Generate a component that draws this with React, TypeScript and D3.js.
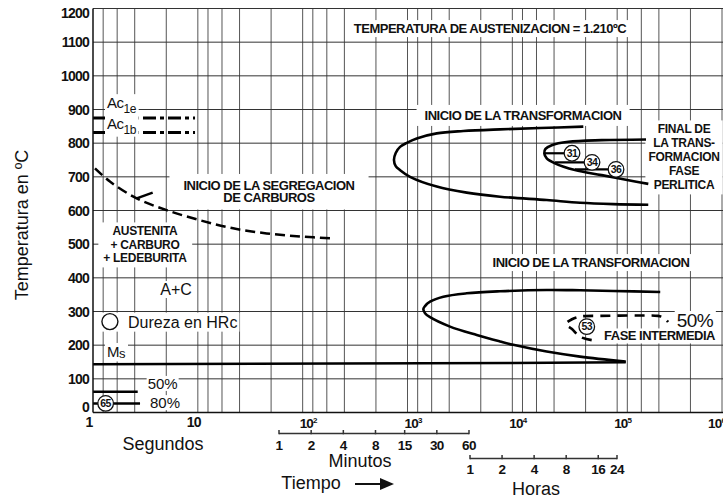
import React, { useEffect, useRef } from 'react';
import * as d3 from 'd3';

type Pt = [number, number];

const W = 723;
const H = 499;
const FONT = "'Liberation Sans', Arial, Helvetica, sans-serif";

// ---------- axes / ticks ----------
const tempTicks = [0, 100, 200, 300, 400, 500, 600, 700, 800, 900, 1000, 1100, 1200];
const timeDecades = [1, 10, 100, 1000, 10000, 100000, 1000000];
const decadeExponents = ['', '', '2', '3', '4', '5', '6'];
const gridMultipliers = [1, 1.25, 1.7, 2.5, 5];
const minuteTicks = [1, 2, 4, 8, 15, 30, 60];
const hourTicks = [1, 2, 4, 8, 16, 24];

// ---------- Ac lines ----------
const acTemps = [875, 832];
const acSubs = ['1e', '1b'];
const acLineEnd = 9.4;

// ---------- curves (time s, temperature ºC) ----------
const segregationStart: Pt[] = [[1.045, 725], [1.45, 686], [2.61, 636], [5.04, 601], [10.5, 571], [21.7, 547], [45.3, 532], [94.5, 523], [194, 517]];
const segregationLeader: Pt[] = [[2.61, 636], [3.71, 653]];
const pearliteStart: Pt[] = [[47550, 849], [18360, 845], [7628, 841], [3404, 836], [1901, 829], [1225, 814], [984, 801], [849, 789], [772, 771], [743, 750], [772, 732], [849, 720], [1057, 700], [1900, 671], [3672, 653], [7628, 641], [21280, 631], [44230, 623], [91900, 619], [198000, 617]];
const pearliteFinish: Pt[] = [[188400, 811], [71240, 809], [34280, 804], [23760, 794], [20710, 783], [20180, 770], [21280, 755], [25520, 740], [39610, 720], [71240, 705], [148000, 686], [198200, 679]];
const bainiteStart: Pt[] = [[257500, 358], [91900, 361], [44230, 363], [21280, 364], [7628, 360], [3672, 354], [2198, 344], [1641, 329], [1469, 316], [1416, 307], [1469, 295], [1641, 283], [2545, 255], [4575, 230], [7628, 211], [10200, 201], [21280, 181], [44230, 166], [120700, 151]];
const bainite50: Pt[] = [[57150, 215], [44230, 225], [37070, 248], [32510, 263], [37070, 277], [44230, 285], [68560, 287], [165200, 288], [245500, 287], [280200, 281], [305700, 269]];
const msLine: Pt[] = [[1, 143], [10000, 147], [120700, 149]];
const mart50: Pt[] = [[1, 62], [2.67, 62]];
const mart80: Pt[] = [[1, 27], [2.81, 27]];

// ---------- hardness HRc ----------
const hardnessValues = [65, 31, 34, 36, 53];
const hardnessTimes = [1.32, 37070, 57540, 97500, 51290];
const hardnessTemps = [27, 770, 743, 722, 255];
const hardnessLeaderFrom: (number | null)[] = [null, 20180, 25520, 39610, null];

// ---------- annotation anchors (time, temperature) ----------
const austenizacionText = ['TEMPERATURA DE AUSTENIZACION = 1.210ºC'];
const austenizacionAt: Pt = [6124, 1127];
const acLabelAt: Pt[] = [[1.36, 904], [1.36, 843]];
const segregationText = ['INICIO DE LA SEGREGACION', 'DE CARBUROS'];
const segregationAt: Pt = [47.7, 661];
const austenitaText = ['AUSTENITA', '+ CARBURO', '+ LEDEBURITA'];
const austenitaAt: Pt = [3.13, 526];
const acText = ['A+C'];
const acAt: Pt = [6.19, 349];
const durezaText = 'Dureza en HRc';
const durezaCircleAt: Pt = [1.45, 270];
const durezaTextAt: Pt = [2.16, 252];
const msAt: Pt = [1.36, 165];
const pctLabels = ['50%', '80%'];
const pctAt: Pt[] = [[3.32, 70], [3.5, 13]];
const pearliteStartText = ['INICIO DE LA TRANSFORMACION'];
const pearliteStartAt: Pt = [12650, 869];
const pearliteFinishText = ['FINAL DE', 'LA TRANS-', 'FORMACION', 'FASE', 'PERLITICA'];
const pearliteFinishAt: Pt = [434300, 829];
const bainiteStartText = ['INICIO DE LA TRANSFORMACION'];
const bainiteStartAt: Pt = [56250, 432];
const bainite50Text = ['50%'];
const bainite50At: Pt = [369800, 254];
const faseText = ['FASE INTERMEDIA'];
const faseAt: Pt = [253500, 214];

type Opt = { size: number; weight?: string; anchor?: string; ls?: number; lh?: number; padX?: number; padY?: number };

function backdrop(g: any, padX: number, padY: number) {
  const bb = (g.node() as SVGGElement).getBBox();
  g.insert('rect', ':first-child')
    .attr('x', bb.x - padX).attr('y', bb.y - padY)
    .attr('width', bb.width + 2 * padX).attr('height', bb.height + 2 * padY)
    .attr('fill', '#fff');
}

function label(parent: any, xPos: number, yPos: number, lines: string[], o: Opt) {
  const g = parent.append('g');
  const t = g.append('text')
    .attr('x', xPos).attr('y', yPos)
    .attr('text-anchor', o.anchor ?? 'middle')
    .attr('font-family', FONT).attr('font-size', o.size)
    .attr('font-weight', o.weight ?? 'normal')
    .attr('letter-spacing', o.ls ?? 0)
    .attr('fill', '#111');
  lines.forEach((l, i) => t.append('tspan').attr('x', xPos).attr('dy', i === 0 ? 0 : (o.lh ?? o.size * 1.1)).text(l));
  backdrop(g, o.padX ?? 2, o.padY ?? 1);
  return g;
}

function draw(el: SVGSVGElement) {
  const svg = d3.select(el);
  svg.selectAll('*').remove();
  svg.append('rect').attr('width', W).attr('height', H).attr('fill', '#fff');

  const x = d3.scaleLog().domain([1, 1e6]).range([93, 722]);
  const y = d3.scaleLinear().domain([0, 1200]).range([412.5, 8.5]);
  const px = (d: Pt) => x(d[0]);
  const py = (d: Pt) => y(d[1]);
  const straight = d3.line<Pt>().x(px).y(py);
  const smooth = d3.line<Pt>().x(px).y(py).curve(d3.curveCatmullRom.alpha(0.5));

  // grid
  const grid = svg.append('g');
  const vlines = timeDecades.slice(0, -1)
    .flatMap(d => gridMultipliers.map(m => d * m))
    .filter(v => v > 1)
    .concat([timeDecades[timeDecades.length - 1]]);
  grid.selectAll('line.v').data(vlines).join('line').attr('class', 'v')
    .attr('x1', d => x(d)).attr('x2', d => x(d))
    .attr('y1', y(1200)).attr('y2', y(0))
    .attr('stroke', '#555').attr('stroke-width', 1);
  grid.selectAll('line.h').data(tempTicks).join('line').attr('class', 'h')
    .attr('x1', x(1)).attr('x2', W)
    .attr('y1', d => y(d)).attr('y2', d => y(d))
    .attr('stroke', '#333').attr('stroke-width', 1);

  // Ac dash-dot lines
  svg.append('g').selectAll('line').data(acTemps).join('line')
    .attr('x1', x(1)).attr('x2', x(acLineEnd))
    .attr('y1', d => y(d)).attr('y2', d => y(d))
    .attr('stroke', '#000').attr('stroke-width', 3)
    .attr('stroke-dasharray', '13 4 4 4');

  const labels = svg.append('g');
  const bold13 = { size: 13, weight: 'bold', ls: -0.5 };

  label(labels, px(austenizacionAt), py(austenizacionAt), austenizacionText, { ...bold13, padX: 3, padY: 1 });

  // Ac labels
  acLabelAt.forEach((p, i) => {
    const g = labels.append('g');
    const t = g.append('text').attr('x', px(p)).attr('y', py(p))
      .attr('font-family', FONT).attr('fill', '#111').attr('letter-spacing', -0.5);
    t.append('tspan').attr('font-size', 15).text('Ac');
    t.append('tspan').attr('font-size', 12).attr('dy', 5).text(acSubs[i]);
    backdrop(g, 2, 0);
  });

  label(labels, px(segregationAt), py(segregationAt), segregationText, { ...bold13, lh: 12.5, padX: 14, padY: 4 });
  label(labels, px(austenitaAt), py(austenitaAt), austenitaText, { size: 12, weight: 'bold', ls: -0.3, lh: 13.5, padX: 5, padY: 2 });
  label(labels, px(acAt), py(acAt), acText, { size: 16, padX: 3, padY: 0 });

  // Dureza legend
  {
    const g = labels.append('g');
    g.append('circle').attr('cx', px(durezaCircleAt)).attr('cy', py(durezaCircleAt)).attr('r', 8)
      .attr('fill', '#fff').attr('stroke', '#111').attr('stroke-width', 1.4);
    g.append('text').attr('x', px(durezaTextAt)).attr('y', py(durezaTextAt))
      .attr('font-family', FONT).attr('font-size', 16).attr('fill', '#111').text(durezaText);
    backdrop(g, 2, 1);
  }

  // Ms label
  {
    const g = labels.append('g');
    const t = g.append('text').attr('x', px(msAt)).attr('y', py(msAt))
      .attr('font-family', FONT).attr('fill', '#111').attr('letter-spacing', -0.5);
    t.append('tspan').attr('font-size', 15).text('M');
    t.append('tspan').attr('font-size', 13).attr('dy', 1.5).text('s');
    backdrop(g, 2, 0);
  }

  pctLabels.forEach((s, i) => label(labels, px(pctAt[i]), py(pctAt[i]), [s], { size: 15, anchor: 'start', padX: 1, padY: -1 }));

  label(labels, px(pearliteStartAt), py(pearliteStartAt), pearliteStartText, { ...bold13, padX: 8, padY: 3 });
  label(labels, px(pearliteFinishAt), py(pearliteFinishAt), pearliteFinishText, { size: 12, weight: 'bold', ls: -0.3, lh: 14, padX: 3, padY: 2 });
  label(labels, px(bainiteStartAt), py(bainiteStartAt), bainiteStartText, { ...bold13, padX: 3, padY: 1 });
  label(labels, px(bainite50At), py(bainite50At), bainite50Text, { size: 19, anchor: 'start', ls: -0.5, padX: 2, padY: -1 });
  label(labels, px(faseAt), py(faseAt), faseText, { ...bold13, padX: 3, padY: 0 });

  // curves
  const curves = svg.append('g').attr('fill', 'none').attr('stroke', '#000');
  curves.append('path').attr('d', smooth(segregationStart)).attr('stroke-width', 2.5).attr('stroke-dasharray', '10 5');
  curves.append('path').attr('d', straight(segregationLeader)).attr('stroke-width', 2.5);
  curves.append('path').attr('d', smooth(pearliteStart)).attr('stroke-width', 2.6);
  curves.append('path').attr('d', smooth(pearliteFinish)).attr('stroke-width', 2.6);
  curves.append('path').attr('d', smooth(bainiteStart)).attr('stroke-width', 2.6);
  curves.append('path').attr('d', smooth(bainite50)).attr('stroke-width', 2.6).attr('stroke-dasharray', '10 7');
  curves.append('path').attr('d', straight(msLine)).attr('stroke-width', 2.5);
  curves.append('path').attr('d', straight(mart50)).attr('stroke-width', 2.5);
  curves.append('path').attr('d', straight(mart80)).attr('stroke-width', 2.5);

  // hardness circles
  const hg = svg.append('g');
  hardnessValues.forEach((v, i) => {
    const from = hardnessLeaderFrom[i];
    if (from !== null) {
      hg.append('line').attr('x1', x(from)).attr('x2', x(hardnessTimes[i]))
        .attr('y1', y(hardnessTemps[i])).attr('y2', y(hardnessTemps[i]))
        .attr('stroke', '#000').attr('stroke-width', 2.2);
    }
  });
  hardnessValues.forEach((v, i) => {
    const cx = x(hardnessTimes[i]);
    const cy = y(hardnessTemps[i]);
    hg.append('circle').attr('cx', cx).attr('cy', cy).attr('r', 7.8)
      .attr('fill', '#fff').attr('stroke', '#111').attr('stroke-width', 1.3);
    hg.append('text').attr('x', cx).attr('y', cy).attr('dy', '0.36em')
      .attr('text-anchor', 'middle').attr('font-family', FONT).attr('font-size', 10.5)
      .attr('font-weight', 'bold').attr('letter-spacing', -0.5).attr('fill', '#111').text(v);
  });

  // main axes
  svg.append('line').attr('x1', x(1)).attr('x2', x(1)).attr('y1', y(1200)).attr('y2', y(0))
    .attr('stroke', '#111').attr('stroke-width', 1.5);
  svg.append('line').attr('x1', x(1)).attr('x2', W).attr('y1', y(0)).attr('y2', y(0))
    .attr('stroke', '#111').attr('stroke-width', 1.5);

  // y tick labels
  svg.append('g').selectAll('text').data(tempTicks).join('text')
    .attr('x', 89).attr('y', d => Math.min(Math.max(y(d), 13), 406.5)).attr('dy', '0.36em')
    .attr('text-anchor', 'end').attr('font-family', FONT).attr('font-size', 14)
    .attr('font-weight', 'bold').attr('letter-spacing', -0.8).attr('fill', '#111')
    .text(d => String(d));

  // x decade labels
  const xl = svg.append('g').attr('font-family', FONT).attr('font-weight', 'bold').attr('fill', '#111');
  timeDecades.forEach((d, i) => {
    const e = decadeExponents[i];
    if (!e) {
      xl.append('text').attr('x', x(d) - 4).attr('y', 427).attr('text-anchor', 'middle')
        .attr('font-size', 14).attr('letter-spacing', -0.8).text(String(d));
    } else {
      const t = xl.append('text').attr('x', Math.min(x(d) - 3, 708)).attr('y', 427.5)
        .attr('font-size', 13.5).attr('letter-spacing', -0.8);
      t.append('tspan').text('10');
      t.append('tspan').attr('font-size', 8).attr('dy', -5).text(e);
    }
  });

  // minute & hour sub-axes
  const xm = d3.scaleLog().domain([1, 60]).range([279, 469]);
  const xh = d3.scaleLog().domain([1, 24]).range([470, 617]);
  const sub = svg.append('g').attr('font-family', FONT).attr('fill', '#111');
  const subAxis = (sc: any, ticks: number[], yLine: number, yLab: number) => {
    sub.append('line').attr('x1', sc(ticks[0])).attr('x2', sc(ticks[ticks.length - 1]))
      .attr('y1', yLine).attr('y2', yLine).attr('stroke', '#333').attr('stroke-width', 1.6);
    ticks.forEach(v => {
      sub.append('line').attr('x1', sc(v)).attr('x2', sc(v)).attr('y1', yLine - 3.5).attr('y2', yLine + 0.8)
        .attr('stroke', '#333').attr('stroke-width', 1.5);
      sub.append('text').attr('x', sc(v)).attr('y', yLab).attr('text-anchor', 'middle')
        .attr('font-size', 13.5).attr('font-weight', 'bold').attr('letter-spacing', -0.6).text(String(v));
    });
  };
  subAxis(xm, minuteTicks, 433.5, 450);
  subAxis(xh, hourTicks, 458.5, 474);

  // axis titles
  const titles = svg.append('g').attr('font-family', FONT).attr('font-size', 18).attr('fill', '#111').attr('text-anchor', 'middle');
  titles.append('text').attr('x', 163).attr('y', 450).text('Segundos');
  titles.append('text').attr('x', 360).attr('y', 467.3).text('Minutos');
  titles.append('text').attr('x', 311).attr('y', 488.5).text('Tiempo');
  titles.append('text').attr('x', 536).attr('y', 495).text('Horas');
  titles.append('text').attr('transform', 'translate(27.5,225) rotate(-90)').text('Temperatura en ºC');

  // arrow
  svg.append('line').attr('x1', 355).attr('x2', 383).attr('y1', 484).attr('y2', 484)
    .attr('stroke', '#111').attr('stroke-width', 2);
  svg.append('path').attr('d', d3.line()([[380, 478], [394, 484], [380, 490]]) + 'Z').attr('fill', '#111');
}

export default function App() {
  const ref = useRef<SVGSVGElement>(null);
  useEffect(() => {
    if (ref.current) draw(ref.current);
  }, []);
  return (
    <svg ref={ref} width={W} height={H} style={{ position: 'absolute', left: 0, top: 0, display: 'block' }} />
  );
}
